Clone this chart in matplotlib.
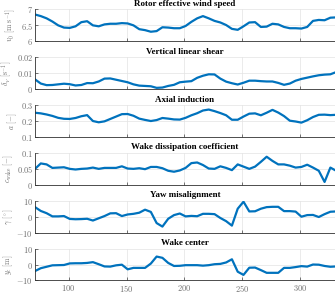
import numpy as np
import matplotlib
matplotlib.use("Agg")
import matplotlib.pyplot as plt
from matplotlib.ticker import FuncFormatter

# Zeit-Achse [s]
t = np.arange(71, 332, 5)

v0 = [6.84, 6.79, 6.72, 6.62, 6.50, 6.43, 6.42, 6.47, 6.60, 6.63,
      6.50, 6.47, 6.53, 6.55, 6.55, 6.57, 6.56, 6.50, 6.38, 6.35,
      6.30, 6.32, 6.44, 6.43, 6.41, 6.41, 6.48, 6.61, 6.72, 6.79,
      6.72, 6.64, 6.59, 6.51, 6.39, 6.36, 6.47, 6.59, 6.60, 6.45,
      6.46, 6.55, 6.53, 6.45, 6.41, 6.41, 6.40, 6.45, 6.64, 6.67,
      6.66, 6.74, 6.75]

shear = [0.0061, 0.0035, 0.0025, 0.0026, 0.0030, 0.0034, 0.0031, 0.0023, 0.0026, 0.0038,
         0.0037, 0.0048, 0.0066, 0.0067, 0.0059, 0.0051, 0.0043, 0.0030, 0.0022, 0.0020,
         0.0018, 0.0008, 0.0010, 0.0020, 0.0027, 0.0043, 0.0047, 0.0050, 0.0071, 0.0084,
         0.0093, 0.0092, 0.0066, 0.0047, 0.0037, 0.0029, 0.0040, 0.0053, 0.0053, 0.0050,
         0.0048, 0.0048, 0.0039, 0.0027, 0.0035, 0.0053, 0.0064, 0.0072, 0.0080, 0.0087,
         0.0091, 0.0093, 0.0107]

axial = [0.252, 0.248, 0.241, 0.232, 0.220, 0.214, 0.213, 0.219, 0.230, 0.237,
         0.200, 0.192, 0.198, 0.213, 0.228, 0.243, 0.244, 0.233, 0.215, 0.207,
         0.200, 0.206, 0.219, 0.215, 0.210, 0.209, 0.220, 0.236, 0.249, 0.266,
         0.272, 0.262, 0.250, 0.236, 0.208, 0.208, 0.228, 0.246, 0.248, 0.236,
         0.252, 0.270, 0.253, 0.231, 0.202, 0.197, 0.190, 0.205, 0.225, 0.239,
         0.240, 0.237, 0.239]

wake_diss = [0.050, 0.067, 0.064, 0.053, 0.054, 0.055, 0.050, 0.048, 0.050, 0.051,
             0.054, 0.050, 0.053, 0.053, 0.053, 0.058, 0.051, 0.050, 0.052, 0.049,
             0.056, 0.056, 0.052, 0.044, 0.041, 0.045, 0.053, 0.068, 0.070, 0.062,
             0.051, 0.050, 0.058, 0.053, 0.046, 0.064, 0.057, 0.050, 0.057, 0.072,
             0.088, 0.075, 0.064, 0.064, 0.060, 0.054, 0.056, 0.063, 0.054, 0.044,
             0.009, 0.054, 0.044]

yaw = [6.0, 3.6, 2.2, 0.2, 0.2, 0.4, -1.4, -1.6, -1.5, -1.3,
       -2.4, -1.0, 0.4, 2.1, 2.2, 0.4, 1.4, 1.8, 2.5, 4.4,
       3.0, -4.0, -6.2, -1.3, 1.0, 2.0, 0.2, 0.5, 0.3, 1.8,
       1.8, 1.6, -0.8, -2.8, -5.6, 5.0, 9.4, 3.3, 3.4, 5.0,
       6.0, 6.2, 6.2, 3.5, 3.5, 3.2, 0.0, 1.0, 1.1, -0.2,
       1.6, 3.1, 3.3]

wake_center = [-4.1, -2.3, -1.4, -0.5, -0.4, -0.3, 0.7, 0.8, 0.8, 1.0,
               1.5, 0.2, -1.2, -1.3, -0.5, -0.1, -3.0, -2.1, -2.1, -2.1,
               0.6, 5.0, 4.2, 1.0, -0.9, -0.8, -0.4, -0.4, -0.4, -0.7,
               -0.4, 0.2, 0.4, 1.3, 3.3, -4.5, -6.5, -2.0, -1.9, -3.5,
               -5.2, -5.2, -5.2, -2.1, -2.1, -1.6, -1.0, -1.3, 0.0, -0.1,
               -0.9, -1.4, -1.2]

titles = ['Rotor effective wind speed', 'Vertical linear shear', 'Axial induction',
          'Wake dissipation coefficient', 'Yaw misalignment', 'Wake center']
ylabels = [r'$v_0\ [\mathrm{m\ s^{-1}}]$', r'$\delta_V\ [\mathrm{s^{-1}}]$', r'$a\ [\mathrm{-}]$',
           r'$c_{\mathrm{wake}}\ [\mathrm{-}]$', r'$\gamma\ [^\circ]$', r'$y_{\mathrm{c}}\ [\mathrm{m}]$']
yticks = [[6, 6.5, 7], [0, 0.01, 0.02], [0.1, 0.2, 0.3],
          [0, 0.05, 0.1], [-10, 0, 10], [-10, 0, 10]]
xticks = [100, 150, 200, 250, 300]

plt.rcParams['mathtext.fontset'] = 'cm'
plt.rcParams['font.family'] = 'serif'
plt.rcParams['font.serif'] = ['Liberation Serif', 'DejaVu Serif']

fig, axes = plt.subplots(6, 1, figsize=(3.35, 2.94), dpi=100, sharex=True)
fig.subplots_adjust(left=0.1045, right=1.0, top=0.968, bottom=0.046, hspace=0.5)

fmt = FuncFormatter(lambda v, p: '$%g$' % v)
series = [v0, shear, axial, wake_diss, yaw, wake_center]

for ax, y, tit, yl, yt in zip(axes, series, titles, ylabels, yticks):
    ax.plot(t, y, color='#0072BD', linewidth=1.6)
    ax.set_title(tit, fontsize=6.5, fontweight='bold', pad=2.5)
    ax.set_ylabel(yl, fontsize=5.5, color='#707070', labelpad=1)
    ax.set_ylim(yt[0], yt[-1])
    ax.set_yticks(yt)
    ax.yaxis.set_major_formatter(fmt)
    ax.set_xlim(71, 330)
    ax.set_xticks(xticks)
    ax.xaxis.set_major_formatter(fmt)
    ax.grid(True, color='#e3e3e3', linewidth=0.5)
    ax.set_axisbelow(True)
    ax.tick_params(direction='in', length=2, width=0.5, labelsize=6,
                   labelcolor='#707070', color='#404040', pad=1.5)
    for s in ['top', 'right']:
        ax.spines[s].set_visible(False)
    for s in ['left', 'bottom']:
        ax.spines[s].set_linewidth(0.6)
        ax.spines[s].set_color('#303030')

plt.savefig('out.png', dpi=100)
